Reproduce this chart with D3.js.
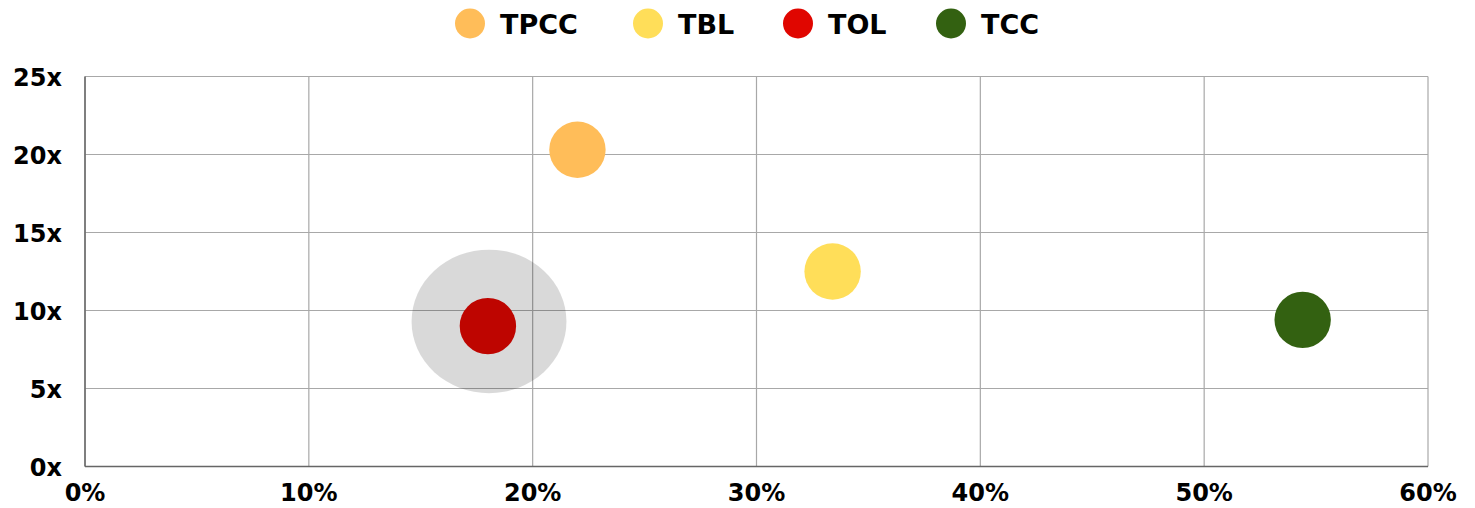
<!DOCTYPE html>
<html><head><meta charset="utf-8">
<script src="https://cdn.jsdelivr.net/npm/d3@7"></script>
<style>html,body{margin:0;padding:0;background:#fff;}svg{display:block;font-family:"DejaVu Sans",sans-serif;font-weight:bold;}</style>
</head><body><svg id="c" width="1475" height="508"></svg>
<script>
const names = ["TPCC","TBL","TOL","TCC"];
const xValues = [22.0, 33.4, 18.0, 54.4];
const yValues = [20.3, 12.5, 9.0, 9.4];
const colors = ["#FFBD59","#FFDE59","#E00600","#336111"];
const xTicks = [0,10,20,30,40,50,60];
const yTicks = [0,5,10,15,20,25];
const highlight = {x:18.05, y:9.3, rx:3.46, ry:4.6};

const svg = d3.select("#c");
const x = d3.scaleLinear().domain([0,60]).range([85,1428]);
const y = d3.scaleLinear().domain([0,25]).range([466.5,76.5]);

// grid
svg.append("g").selectAll("line").data(xTicks).join("line")
  .attr("x1",d=>x(d)).attr("x2",d=>x(d)).attr("y1",y(0)).attr("y2",y(25))
  .attr("stroke","#a8a8a8").attr("stroke-width",1.2);
svg.append("g").selectAll("line").data(yTicks).join("line")
  .attr("x1",x(0)).attr("x2",x(60)).attr("y1",d=>y(d)).attr("y2",d=>y(d))
  .attr("stroke","#a8a8a8").attr("stroke-width",1.2);
// axes lines
svg.append("line").attr("x1",x(0)).attr("x2",x(0)).attr("y1",y(0)).attr("y2",y(25)).attr("stroke","#666").attr("stroke-width",1.5);
svg.append("line").attr("x1",x(0)).attr("x2",x(60)).attr("y1",y(0)).attr("y2",y(0)).attr("stroke","#666").attr("stroke-width",1.5);

// tick labels
svg.append("g").selectAll("text").data(yTicks).join("text")
  .attr("x",62).attr("y",d=>y(d)+2).attr("text-anchor","end").attr("dominant-baseline","middle")
  .attr("font-size",24).attr("fill","#000").text(d=>d+"x");
svg.append("g").selectAll("text").data(xTicks).join("text")
  .attr("x",d=>x(d)).attr("y",501).attr("text-anchor","middle")
  .attr("font-size",24).attr("fill","#000").text(d=>d+"%");

// bubbles
svg.append("g").selectAll("circle").data(names).join("circle")
  .attr("cx",(d,i)=>x(xValues[i])).attr("cy",(d,i)=>y(yValues[i])).attr("r",28.2)
  .attr("fill",(d,i)=>colors[i]);

// highlight halo
svg.append("ellipse").attr("cx",x(highlight.x)).attr("cy",y(highlight.y))
  .attr("rx",x(highlight.rx)-x(0)).attr("ry",y(0)-y(highlight.ry))
  .attr("fill","rgba(0,0,0,0.15)");

// legend
const legendX = [470, 648, 798, 951];
const lg = svg.append("g").selectAll("g").data(names).join("g")
  .attr("transform",(d,i)=>`translate(${legendX[i]},23.5)`);
lg.append("circle").attr("r",15).attr("fill",(d,i)=>colors[i]);
lg.append("text").attr("x",30).attr("y",10).attr("font-size",27).attr("fill","#000").text(d=>d);
</script></body></html>
